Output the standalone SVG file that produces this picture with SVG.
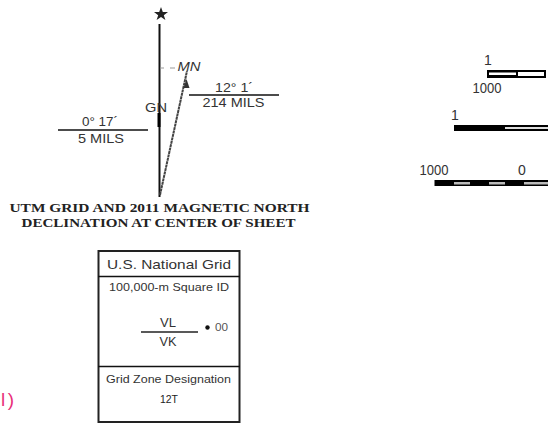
<svg xmlns="http://www.w3.org/2000/svg" width="548" height="423" viewBox="0 0 548 423">
<style>
text{font-family:"Liberation Sans",Arial,sans-serif;fill:#333;text-anchor:middle}
.s{font-family:"Liberation Serif","Times New Roman",serif;font-weight:bold;font-size:12.500px;fill:#222}
.l{stroke:#111;stroke-width:1.6;fill:none}
.b{fill:#000}
.g{fill:#bbb}
</style>
<rect width="548" height="423" fill="#fff"/>
<g id="connectors">
<line class="l" x1="159.5" y1="24" x2="159.5" y2="197" style="stroke-width:2"/>
<line x1="160" y1="195" x2="187" y2="71" stroke="#444" stroke-width="2" stroke-dasharray="3 .5"/>
<line x1="58" y1="130" x2="148" y2="130" class="l"/>
<line x1="189" y1="95" x2="279" y2="95" class="l"/>
<line x1="160" y1="68" x2="164" y2="68" stroke="#999" stroke-width="1"/>
<line x1="170" y1="68" x2="175" y2="68" stroke="#999" stroke-width="1"/>
<polygon points="186.500,79 183.500,88 189.500,88" fill="#333"/>
<polygon points="157.500,113 160.500,113 160.500,127 157.500,127" fill="#000"/>
</g>
<g id="north-star"><polygon points="161,7 162.800,12 168,12 163.800,15.200 165.400,20 161,17 156.600,20 158.200,15.200 154,12 159.200,12" fill="#222"/></g>
<g id="mn-label"><text x="189" y="71" font-size="13" font-style="italic" textLength="23" lengthAdjust="spacingAndGlyphs">MN</text></g>
<g id="gn-label"><text x="156" y="111.500" font-size="13" textLength="22" lengthAdjust="spacingAndGlyphs">GN</text></g>
<g id="mn-declination">
<text x="234" y="92" font-size="13.500" textLength="38" lengthAdjust="spacingAndGlyphs">12° 1´</text>
<text x="233.500" y="107" font-size="13" textLength="62" lengthAdjust="spacingAndGlyphs">214 MILS</text>
</g>
<g id="gn-declination">
<text x="100" y="126" font-size="13.500" textLength="36" lengthAdjust="spacingAndGlyphs">0° 17´</text>
<text x="101" y="143" font-size="13" textLength="46" lengthAdjust="spacingAndGlyphs">5 MILS</text>
</g>
<g id="declination-caption">
<text class="s" x="159.500" y="212" textLength="300" lengthAdjust="spacingAndGlyphs">UTM GRID AND 2011 MAGNETIC NORTH</text>
<text class="s" x="158.500" y="227" textLength="274" lengthAdjust="spacingAndGlyphs">DECLINATION AT CENTER OF SHEET</text>
</g>
<g id="scale-1">
<text x="488" y="65" font-size="14">1</text>
<text x="487" y="93" font-size="14" textLength="29" lengthAdjust="spacingAndGlyphs">1000</text>
<rect x="487" y="70" width="59" height="8" class="b"/>
<rect x="489" y="72.500" width="27" height="2.500" fill="#fff"/>
<rect x="518" y="72" width="26" height="4" fill="#fff"/>
</g>
<g id="scale-2">
<text x="455" y="120" font-size="14">1</text>
<rect x="454" y="125" width="94" height="6" class="b"/>
<rect x="505" y="127" width="43" height="2" fill="#ddd"/>
</g>
<g id="scale-3">
<text x="434" y="175" font-size="14" textLength="29" lengthAdjust="spacingAndGlyphs">1000</text>
<text x="522" y="175" font-size="14">0</text>
<rect x="434.500" y="180" width="113.500" height="6" class="b"/>
<rect x="454" y="182" width="16" height="2.500" class="g"/>
<rect x="489" y="182" width="16" height="2.500" class="g"/>
<rect x="524" y="182" width="24" height="2.500" class="g"/>
</g>
<g id="usng-box">
<rect x="98.500" y="251" width="141" height="171" fill="#fff" stroke="#222" stroke-width="2"/>
<line x1="98" y1="276.500" x2="240" y2="276.500" class="l"/>
<line x1="98" y1="366.500" x2="240" y2="366.500" class="l"/>
<text x="169" y="269" font-size="13" textLength="124" lengthAdjust="spacingAndGlyphs">U.S. National Grid</text>
<text x="169" y="291" font-size="10.500" textLength="120" lengthAdjust="spacingAndGlyphs">100,000-m Square ID</text>
<text x="168" y="326.500" font-size="12.500" textLength="16" lengthAdjust="spacingAndGlyphs">VL</text>
<line x1="141" y1="332" x2="198" y2="332" stroke="#222" stroke-width="1.500"/>
<text x="168" y="346" font-size="12.500" textLength="17" lengthAdjust="spacingAndGlyphs">VK</text>
<circle cx="207.500" cy="327.500" r="2.200" fill="#111"/>
<text x="221.500" y="331" font-size="10" textLength="13" lengthAdjust="spacingAndGlyphs" style="fill:#555">00</text>
<text x="168.500" y="383" font-size="10.500" textLength="125" lengthAdjust="spacingAndGlyphs">Grid Zone Designation</text>
<text x="169" y="402.500" font-size="11.500" textLength="18" lengthAdjust="spacingAndGlyphs" style="fill:#222">12T</text>
</g>
<g id="fragment"><text x="1" y="406" font-size="19" letter-spacing="2.500" style="fill:#e8307a;text-anchor:start">l)</text></g>
</svg>
